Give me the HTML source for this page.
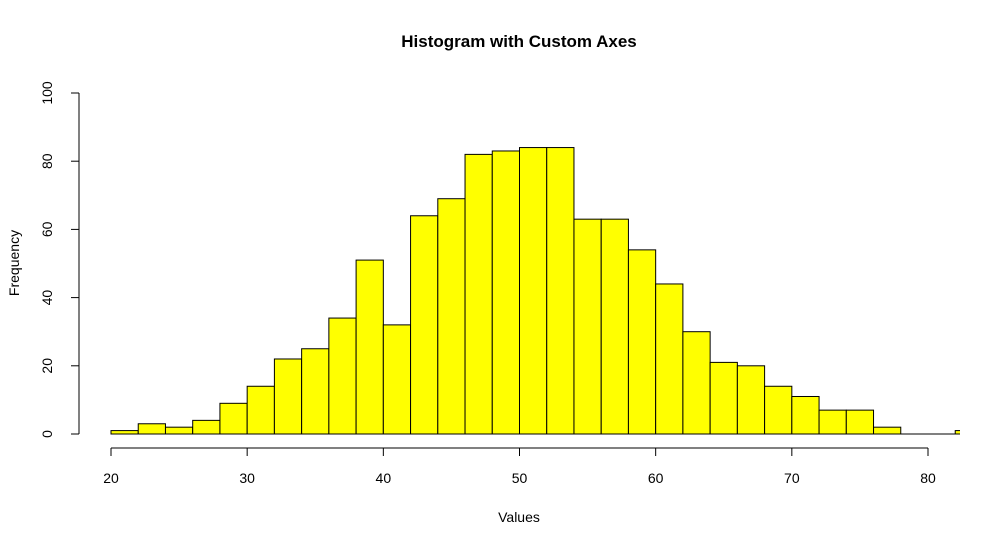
<!DOCTYPE html>
<html><head><meta charset="utf-8"><style>body{margin:0;background:#fff}svg{display:block}</style></head>
<body>
<svg id="c" width="1000" height="546" xmlns="http://www.w3.org/2000/svg" font-family="Liberation Sans, Arial, sans-serif">
<defs><clipPath id="pc"><rect x="0" y="0" width="960" height="546"/></clipPath></defs>
<text x="519" y="47" text-anchor="middle" font-size="17" font-weight="bold">Histogram with Custom Axes</text>
<text x="519" y="522" text-anchor="middle" font-size="14">Values</text>
<text transform="translate(19,263) rotate(-90)" text-anchor="middle" font-size="14">Frequency</text>
<g id="bars" clip-path="url(#pc)"></g>
<g id="axes"></g>
</svg>
<script>
const binStarts=[20,22,24,26,28,30,32,34,36,38,40,42,44,46,48,50,52,54,56,58,60,62,64,66,68,70,72,74,76,78,80,82];
const counts=[1,3,2,4,9,14,22,25,34,51,32,64,69,82,83,84,84,63,63,54,44,30,21,20,14,11,7,7,2,0,0,1];
const binWidth=2;
const xTicks=[20,30,40,50,60,70,80];
const yTicks=[0,20,40,60,80,100];
const NS='http://www.w3.org/2000/svg';
const xs=v=>111+(v-20)*(928-111)/60;
const ys=v=>434-v*(434-93)/100;
const bars=document.getElementById('bars'),axes=document.getElementById('axes');
function mk(tag,a,p){const e=document.createElementNS(NS,tag);for(const k in a)e.setAttribute(k,a[k]);p.appendChild(e);return e;}
binStarts.forEach((s,i)=>{
  const x0=xs(s),x1=xs(s+binWidth),y=ys(counts[i]);
  const r=mk('rect',{x:x0,y:y,width:x1-x0,height:ys(0)-y,fill:'#ffff00',stroke:'#000','stroke-width':1},bars);
  
  
  const b=mk('line',{x1:x0,x2:x1,y1:ys(0),y2:ys(0),stroke:'#000','stroke-width':1},bars);
  
  
});
let xl=mk('line',{x1:xs(xTicks[0]),x2:xs(xTicks[xTicks.length-1]),y1:448,y2:448,stroke:'#000'},axes);


xTicks.forEach(t=>{
  mk('line',{x1:xs(t),x2:xs(t),y1:448,y2:456,stroke:'#000'},axes);
  const tx=mk('text',{x:xs(t),y:483,'text-anchor':'middle','font-size':14},axes);tx.textContent=t;
  
  
});
let yl=mk('line',{x1:79,x2:79,y1:ys(0),y2:ys(100),stroke:'#000'},axes);


yTicks.forEach(t=>{
  mk('line',{x1:71,x2:79,y1:ys(t),y2:ys(t),stroke:'#000'},axes);
  const tx=mk('text',{x:0,y:0,transform:`translate(52,${ys(t)}) rotate(-90)`,'text-anchor':'middle','font-size':14},axes);tx.textContent=t;
  
  
});
</script>
</body></html>
